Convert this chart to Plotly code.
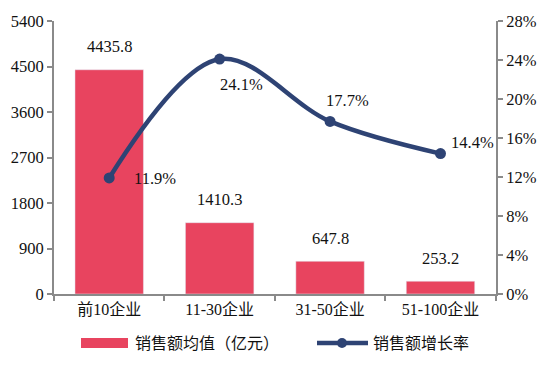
import plotly.graph_objects as go

categories = ["前10企业", "11-30企业", "31-50企业", "51-100企业"]
sales_avg = [4435.8, 1410.3, 647.8, 253.2]
growth = [11.9, 24.1, 17.7, 14.4]
bar_name = "销售额均值（亿元）"
line_name = "销售额增长率"

FONT = "Liberation Serif, 'Times New Roman', 'Noto Sans CJK SC', serif"
BAR_C = "#E8445F"
LINE_C = "#2E4374"
AX_C = "#8A8A8A"
FS = 16.5

fig = go.Figure()
fig.add_trace(go.Bar(x=categories, y=sales_avg, name=bar_name, marker_color=BAR_C,
                     width=0.62, yaxis="y", showlegend=False))
fig.add_trace(go.Scatter(x=categories, y=growth, name=line_name, yaxis="y2",
                         mode="lines+markers", line=dict(color=LINE_C, width=4.5, shape="spline"),
                         marker=dict(size=11, color=LINE_C), showlegend=False))

ann = []
for c, v in zip(categories, sales_avg):
    ann.append(dict(x=c, y=v, xref="x", yref="y", text=f"{v:.1f}", showarrow=False,
                    yshift=23, font=dict(size=FS, color="#111", family=FONT)))
offs = [(46, -1), (22, -25), (17, 21), (32, 11)]
for c, v, (dx, dy) in zip(categories, growth, offs):
    ann.append(dict(x=c, y=v, xref="x", yref="y2", text=f"{v:.1f}%", showarrow=False,
                    xshift=dx, yshift=dy, font=dict(size=FS, color="#111", family=FONT)))

# custom legend (plot area in window px: x 54-496, y 21-294)
PX0, PW, PY0, PH = 54.0, 442.0, 294.0, 273.0
def px(x):
    return (x - PX0) / PW
def py(y):
    return (PY0 - y) / PH

LEG_Y = 343
shapes = [
    dict(type="rect", xref="paper", yref="paper", x0=px(81), x1=px(128), y0=py(LEG_Y + 5), y1=py(LEG_Y - 5),
         fillcolor=BAR_C, line=dict(width=0)),
    dict(type="line", xref="paper", yref="paper", x0=px(317), x1=px(368), y0=py(LEG_Y), y1=py(LEG_Y),
         line=dict(color=LINE_C, width=4.5)),
    dict(type="circle", xref="paper", yref="paper", x0=px(337), x1=px(347), y0=py(LEG_Y + 5), y1=py(LEG_Y - 5),
         fillcolor=LINE_C, line=dict(width=0)),
]
ann.append(dict(xref="paper", yref="paper", x=px(133), y=py(LEG_Y), text=bar_name, showarrow=False,
                xanchor="left", yanchor="middle", font=dict(size=16, color="#111", family=FONT)))
ann.append(dict(xref="paper", yref="paper", x=px(371), y=py(LEG_Y), text=line_name, showarrow=False,
                xanchor="left", yanchor="middle", font=dict(size=16, color="#111", family=FONT)))

fig.update_layout(
    width=544, height=358,
    margin=dict(l=46, r=56, t=13, b=72, autoexpand=False),
    plot_bgcolor="white", paper_bgcolor="white",
    font=dict(family=FONT, size=FS, color="#111"),
    showlegend=False,
    xaxis=dict(type="category", showline=True, linecolor=AX_C, linewidth=2,
               ticks="outside", tickson="boundaries", ticklen=5, tickcolor=AX_C, tickwidth=2,
               showgrid=False, tickfont=dict(size=16), automargin=False),
    yaxis=dict(range=[0, 5400], dtick=900, showline=True, linecolor=AX_C, linewidth=2,
               ticks="outside", ticklen=5, tickcolor=AX_C, tickwidth=2, showgrid=False,
               zeroline=False, tickfont=dict(size=FS), automargin=False),
    yaxis2=dict(range=[0, 28], dtick=4, overlaying="y", side="right", showline=True,
                linecolor=AX_C, linewidth=2, ticks="outside", ticklen=5, tickcolor=AX_C,
                tickwidth=2, showgrid=False, zeroline=False, ticksuffix="%",
                tickfont=dict(size=FS), automargin=False),
    annotations=ann,
    shapes=shapes,
)

fig.write_html("out.html")
